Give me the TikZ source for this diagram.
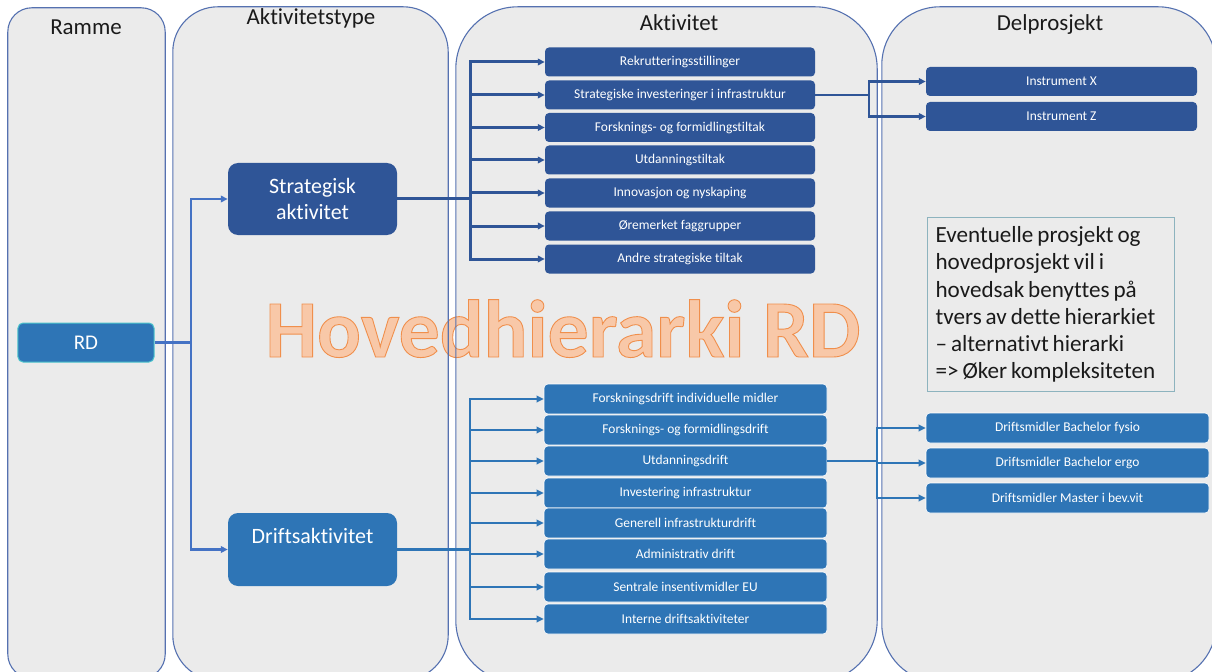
\documentclass[tikz,border=0pt]{standalone}
\usepackage{fontspec}
\setmainfont{Carlito}[Ligatures=NoCommon]
\usetikzlibrary{arrows.meta}
\definecolor{colfill}{HTML}{EBEBEB}
\definecolor{colline}{HTML}{5571B0}
\definecolor{dkblue}{HTML}{2F5597}
\definecolor{mdblue}{HTML}{2E75B6}
\definecolor{lnblue}{HTML}{4472C4}
\definecolor{wmfill}{HTML}{F8C8A8}
\definecolor{noteline}{HTML}{8DB3BE}
\definecolor{rdline}{HTML}{4CC4CC}
\definecolor{hdrtext}{HTML}{1A1A1A}
\makeatletter
\newcommand\wmstrokeon{\pgfsys@invoke{ q 2 Tr 0.9 w 0.941 0.560 0.300 RG }}
\newcommand\wmstrokeoff{\pgfsys@invoke{ Q }}
\makeatother
\newcommand\tightspace{\spaceskip=0.17em\relax}
\tikzset{
  colbox/.style={fill=colfill, inner sep=0pt},
  colborder/.style={draw=colline, line width=1.1bp},
  hdr/.style={font=\fontsize{23}{27}\selectfont, text=hdrtext, anchor=base, inner sep=0pt},
  typebox/.style={rounded corners=10bp, minimum width=169bp, text=white, align=center, inner sep=0pt, font=\fontsize{22}{26.7}\selectfont},
  smallbox/.style={rounded corners=4bp, minimum height=29bp, text=white, inner sep=0pt, font=\fontsize{13.5}{15}\selectfont},
  dkitem/.style={smallbox, fill=dkblue},
  mditem/.style={smallbox, fill=mdblue, draw=white, line width=0.6bp, minimum height=30bp},
  tipA/.style={-{Triangle[length=7bp,width=6.5bp]}},
  rdconn/.style={draw=lnblue, line width=2.3bp},
  stconn/.style={draw=dkblue, line width=3bp},
  inconn/.style={draw=dkblue, line width=2.4bp},
  dfconn/.style={draw=mdblue, line width=2.5bp},
}
\begin{document}
\begin{tikzpicture}[x=1bp,y=-1bp]
\useasboundingbox (0,0) rectangle (1212,672);
\clip (0,0) rectangle (1212,672);
% columns (fill)
\node[colbox, rounded corners=24bp, minimum width=157bp, minimum height=670bp] (ramme) at (86.5,343) {};
\node[colbox, rounded corners=45bp, minimum width=275bp, minimum height=673bp] (atype) at (310.5,343.5) {};
\node[colbox, rounded corners=62bp, minimum width=421bp, minimum height=675bp] (akt) at (666.5,344.5) {};
\node[colbox, rounded corners=58bp, minimum width=334bp, minimum height=675bp] (del) at (1049,344.5) {};
% watermark
\node[anchor=base, inner sep=0pt, text=wmfill, font=\fontsize{82}{90}\selectfont\bfseries] (wm) at (563,357) {\wmstrokeon Hovedhierarki RD\wmstrokeoff};
% column borders
\draw[colborder, rounded corners=24bp] (ramme.north west) rectangle (ramme.south east);
\draw[colborder, rounded corners=45bp] (atype.north west) rectangle (atype.south east);
\draw[colborder, rounded corners=62bp] (akt.north west) rectangle (akt.south east);
\draw[colborder, rounded corners=58bp] (del.north west) rectangle (del.south east);
% headers
\node[hdr] (hramme) at (86,35) {Ramme};
\node[hdr] (hatype) at (311,25) {Aktivitetstype};
\node[hdr] (hakt) at (679,31) {Aktivitet};
\node[hdr] (hdel) at (1050,31) {Delprosjekt};
% RD
\node[fill=mdblue, draw=rdline, line width=1bp, rounded corners=5bp, minimum width=136bp, minimum height=39bp, text=white, inner sep=0pt, font=\fontsize{21}{24}\selectfont] (rd) at (86,342.5) {RD};
% type boxes
\node[typebox, fill=dkblue, minimum height=72bp] (strat) at (312.5,199) {Strategisk\\aktivitet};
\node[typebox, fill=mdblue, minimum height=73bp] (drift) at (312.5,549.5) {Driftsaktivitet\\\mbox{}};
% strategic activities
\begin{scope}[every node/.append style={minimum width=270bp}]
\node[dkitem] (a1) at (680,62) {Rekrutteringsstillinger};
\node[dkitem] (a2) at (680,95) {Strategiske investeringer i infrastruktur};
\node[dkitem] (a3) at (680,127.5) {Forsknings- og formidlingstiltak};
\node[dkitem] (a4) at (680,160) {Utdanningstiltak};
\node[dkitem] (a5) at (680,193) {Innovasjon og nyskaping};
\node[dkitem] (a6) at (680,226) {Øremerket faggrupper};
\node[dkitem] (a7) at (680,259) {Andre strategiske tiltak};
\end{scope}
% drift activities
\begin{scope}[every node/.append style={minimum width=283bp}]
\node[mditem] (b1) at (685.5,399) {Forskningsdrift individuelle midler};
\node[mditem] (b2) at (685.5,430) {Forsknings- og formidlingsdrift};
\node[mditem] (b3) at (685.5,461) {Utdanningsdrift};
\node[mditem] (b4) at (685.5,493) {Investering infrastruktur};
\node[mditem] (b5) at (685.5,523) {Generell infrastrukturdrift};
\node[mditem] (b6) at (685.5,554) {Administrativ drift};
\node[mditem] (b7) at (685.5,587) {Sentrale insentivmidler EU};
\node[mditem] (b8) at (685.5,619) {Interne driftsaktiviteter};
\end{scope}
% delprosjekt
\node[dkitem, minimum width=271bp] (i1) at (1061.5,81.5) {Instrument X};
\node[dkitem, minimum width=271bp] (i2) at (1061.5,116.5) {Instrument Z};
\begin{scope}[every node/.append style={minimum width=283bp}]
\node[mditem] (m1) at (1067.5,428) {Driftsmidler Bachelor fysio};
\node[mditem] (m2) at (1067.5,463) {Driftsmidler Bachelor ergo};
\node[mditem] (m3) at (1067.5,498) {Driftsmidler Master i bev.vit};
\end{scope}
% note
\node[draw=noteline, line width=1.2bp, fill=colfill, anchor=north west, text width=231bp, inner xsep=8bp, inner ysep=9bp, align=left, font=\fontsize{23.2}{27.3}\selectfont, text=hdrtext] (note) at (927,217) {\tightspace Eventuelle prosjekt og\\ hovedprosjekt vil i\\ hovedsak benyttes på\\ tvers av dette hierarkiet\\ – alternativt hierarki\\ => Øker kompleksiteten};
% connectors
\coordinate (jrd) at (191,342.5);
\draw[rdconn] (rd.east) -- (jrd);
\draw[rdconn, tipA] (jrd) |- (strat.west);
\draw[rdconn, tipA] (jrd) |- (drift.west);
\coordinate (js) at (470,199);
\draw[stconn] (strat.east) -- (js);
\foreach \n in {a1,a2,a3,a4,a5,a6,a7} \draw[stconn, tipA] (js) |- (\n.west);
\coordinate (jd) at (470,549.5);
\draw[dfconn] (drift.east) -- (jd);
\foreach \n in {b1,b2,b3,b4,b5,b6,b7,b8} \draw[dfconn, tipA] (jd) |- (\n.west);
\coordinate (ji) at (869,95);
\draw[inconn] (a2.east) -- (ji);
\foreach \n in {i1,i2} \draw[inconn, tipA] (ji) |- (\n.west);
\coordinate (jm) at (877,461);
\draw[dfconn] (b3.east) -- (jm);
\foreach \n in {m1,m2,m3} \draw[dfconn, tipA] (jm) |- (\n.west);
\end{tikzpicture}
\end{document}
